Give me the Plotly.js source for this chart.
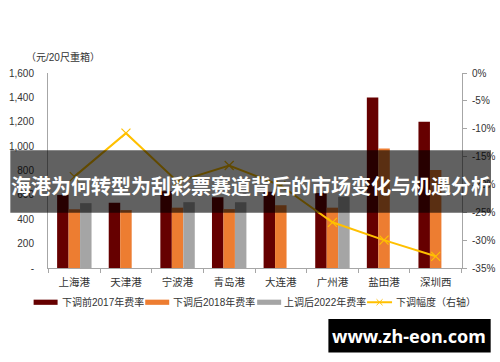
<!DOCTYPE html>
<html>
<head>
<meta charset="utf-8">
<script src="https://cdn.plot.ly/plotly-3.0.1.min.js"></script>
<style>html,body{margin:0;padding:0;background:#fff}#chart{width:500px;height:362px}</style>
</head>
<body>
<div id="chart"></div>
<script>
var categories = ['上海港','天津港','宁波港','青岛港','大连港','广州港','盐田港','深圳西'];
var fee2017 = [600, 535, 630, 580, 625, 615, 1400, 1200];
var fee2018 = [482, 475, 495, 483, 515, 495, 980, 805];
var fee2022 = [532, null, 540, 540, null, 585, null, null];
var cutPct = [-18.6, -10.8, -19.5, -16.6, -20.2, -26.8, -30.0, -32.9];
var leftTicks = [0, 200, 400, 600, 800, 1000, 1200, 1400, 1600];
var leftTickText = ['-', '200', '400', '600', '800', '1,000', '1,200', '1,400', '1,600'];
var rightTicks = [0, -5, -10, -15, -20, -25, -30, -35];
var rightTickText = ['0%', '-5%', '-10%', '-15%', '-20%', '-25%', '-30%', '-35%'];
var seriesNames = ['下调前2017年费率', '下调后2018年费率', '上调后2022年费率', '下调幅度（右轴）'];
var seriesColors = ['#660000', '#ED7D31', '#A5A5A5', '#FFC000'];
var unitLabel = '（元/20尺重箱）';
var bannerText = '海港为何转型为刮彩票赛道背后的市场变化与机遇分析';
var watermark = 'www.zh-eon.com';

var FONT = 'Liberation Sans, Arial, Noto Sans CJK SC, sans-serif';
var CJK = 'Noto Sans CJK SC, sans-serif';

var traces = [
  {type:'bar', name:seriesNames[0], x:categories, y:fee2017, marker:{color:seriesColors[0]}, yaxis:'y'},
  {type:'bar', name:seriesNames[1], x:categories, y:fee2018, marker:{color:seriesColors[1]}, yaxis:'y'},
  {type:'bar', name:seriesNames[2], x:categories, y:fee2022, marker:{color:seriesColors[2]}, yaxis:'y'},
  {type:'scatter', mode:'lines+markers', name:seriesNames[3], x:categories, y:cutPct, yaxis:'y2',
   line:{color:seriesColors[3], width:2}, marker:{symbol:'x-thin-open', size:9, color:seriesColors[3], line:{color:seriesColors[3], width:1.2}}}
];

var L = 47.7, R = 38, T = 72.7, B = 94;
var W = 500 - L - R, H = 362 - T - B;
function px(x){ return (x - L) / W; }
function py(y){ return (362 - B - y) / H; }

// custom legend (layout chrome)
var legY = 302.3;
var legSwatchX = [33.3, 145, 257, 367];
var legTextX = [59.5, 171, 282, 394];
var shapes = [];
var annotations = [];
for (var i = 0; i < 3; i++) {
  shapes.push({type:'rect', xref:'paper', yref:'paper', x0:px(legSwatchX[i]), x1:px(legSwatchX[i]+24),
               y0:py(legY+2.6), y1:py(legY-2.6), fillcolor:seriesColors[i], line:{width:0}});
}
shapes.push({type:'line', xref:'paper', yref:'paper', x0:px(367), x1:px(392), y0:py(legY), y1:py(legY),
             line:{color:seriesColors[3], width:2}});
shapes.push({type:'line', xref:'paper', yref:'paper', x0:px(376.5), x1:px(382.5), y0:py(legY-3), y1:py(legY+3),
             line:{color:seriesColors[3], width:1}});
shapes.push({type:'line', xref:'paper', yref:'paper', x0:px(376.5), x1:px(382.5), y0:py(legY+3), y1:py(legY-3),
             line:{color:seriesColors[3], width:1}});
for (var j = 0; j < 4; j++) {
  annotations.push({xref:'paper', yref:'paper', x:px(legTextX[j]), y:py(legY), xanchor:'left', yanchor:'middle',
                    showarrow:false, text:seriesNames[j], font:{family:FONT, size:10, color:'#333333'}});
}
shapes.push({type:'rect', xref:'paper', yref:'paper', x0:px(10), x1:px(491), y0:py(212.6), y1:py(150),
             fillcolor:'rgba(0,0,0,0.62)', line:{width:0}, layer:'above'});
shapes.push({type:'rect', xref:'paper', yref:'paper', x0:px(328.3), x1:px(490.7), y0:py(352.7), y1:py(319),
             fillcolor:'#000000', line:{width:0}, layer:'above'});
annotations.push({xref:'paper', yref:'paper', x:px(24), y:py(56.7), xanchor:'left', yanchor:'middle', showarrow:false,
                  text:unitLabel, font:{family:FONT, size:10, color:'#333333'}});
annotations.push({xref:'paper', yref:'paper', x:px(251), y:py(185.5), xanchor:'center', yanchor:'middle', showarrow:false,
                  text:'<b>'+bannerText+'</b>', font:{family:CJK, size:20, color:'#ffffff'}});
annotations.push({xref:'paper', yref:'paper', x:px(409), y:py(336), xanchor:'center', yanchor:'middle', showarrow:false,
                  text:'<b>'+watermark+'</b>', font:{family:'Noto Sans, Liberation Sans, sans-serif', size:18, color:'#ffffff'}});

var layout = {
  width:500, height:362,
  margin:{l:L, r:R, t:T, b:B, pad:0},
  paper_bgcolor:'#ffffff', plot_bgcolor:'#ffffff',
  font:{family:FONT, size:10, color:'#333333'},
  barmode:'group', bargap:0.333, bargroupgap:0,
  showlegend:false,
  xaxis:{type:'category', showline:true, linecolor:'#A6A6A6', linewidth:1, ticks:'outside', tickson:'boundaries',
         ticklen:4, tickcolor:'#A6A6A6', showgrid:false, zeroline:false, ticklabelstandoff:4,
         tickfont:{family:FONT, size:10.5, color:'#333333'}},
  yaxis:{range:[0,1600], tickvals:leftTicks, ticktext:leftTickText, showline:true, linecolor:'#A6A6A6', linewidth:1,
         showgrid:false, zeroline:false, ticks:'', ticklabelstandoff:11, tickfont:{family:FONT, size:10, color:'#333333'}},
  yaxis2:{overlaying:'y', side:'right', range:[-35,0], tickvals:rightTicks, ticktext:rightTickText, showline:true,
          linecolor:'#A6A6A6', linewidth:1, ticks:'outside', ticklen:4, tickcolor:'#A6A6A6', showgrid:false, zeroline:false,
          ticklabelstandoff:3, tickfont:{family:FONT, size:10, color:'#333333'}},
  shapes:shapes,
  annotations:annotations
};

Plotly.newPlot('chart', traces, layout, {displayModeBar:false, staticPlot:true});
</script>
</body>
</html>
